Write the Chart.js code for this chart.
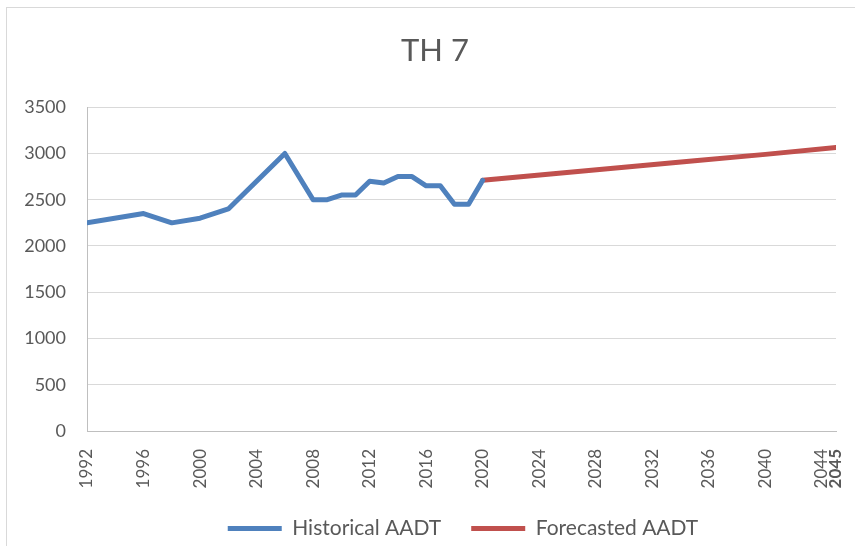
<!DOCTYPE html>
<html>
<head>
<meta charset="utf-8">
<script src="https://cdn.jsdelivr.net/npm/chart.js@4/dist/chart.umd.min.js"></script>
<style>
  html, body { margin: 0; padding: 0; background: #fff; }
  #wrap { width: 855px; height: 546px; }
</style>
</head>
<body>
<div id="wrap"><canvas id="chart" width="855" height="546"></canvas></div>
<script>
// values
const histYears = [1992, 1996, 1998, 2000, 2002, 2006, 2008, 2009, 2010, 2011, 2012, 2013, 2014, 2015, 2016, 2017, 2018, 2019, 2020];
const histValues = [2250, 2350, 2250, 2300, 2400, 3000, 2500, 2500, 2550, 2550, 2700, 2680, 2750, 2750, 2650, 2650, 2450, 2450, 2710];
const forecastYears = [2020, 2025, 2030, 2035, 2040, 2045];
const forecastValues = [2710, 2780, 2850, 2920, 2990, 3065];
const xTickYears = [1992, 1996, 2000, 2004, 2008, 2012, 2016, 2020, 2024, 2028, 2032, 2036, 2040, 2044, 2045];
const yTickValues = [0, 500, 1000, 1500, 2000, 2500, 3000, 3500];

const FONT = "Lato, 'Open Sans', sans-serif";
const TEXT = "#595959";

// light frame round the chart, and nudges for title / legend
const frame = {
  id: "frame",
  beforeDraw(chart) {
    const ctx = chart.ctx;
    ctx.save();
    ctx.fillStyle = "#fff";
    ctx.fillRect(0, 0, chart.width, chart.height);
    ctx.strokeStyle = "#d9d9d9";
    ctx.lineWidth = 1;
    ctx.strokeRect(6.5, 7.5, 900, 600);
    ctx.restore();
  },
  afterLayout(chart) {
    chart.titleBlock.left += 17;
    chart.titleBlock.right += 17;
    chart.legend.left += 45;
    chart.legend.right += 45;
  }
};

const ctx = document.getElementById("chart").getContext("2d");

new Chart(ctx, {
  type: "line",
  data: {
    datasets: [
      {
        label: "Historical AADT",
        data: histYears.map((y, i) => ({ x: y, y: histValues[i] })),
        borderColor: "#4f81bd",
        backgroundColor: "#4f81bd",
        borderWidth: 5,
        borderCapStyle: "round",
        borderJoinStyle: "round",
        pointRadius: 0,
        tension: 0,
      },
      {
        label: "Forecasted AADT",
        data: forecastYears.map((y, i) => ({ x: y, y: forecastValues[i] })),
        borderColor: "#c0504d",
        backgroundColor: "#c0504d",
        borderWidth: 5,
        borderCapStyle: "round",
        borderJoinStyle: "round",
        pointRadius: 0,
        tension: 0,
      },
    ],
  },
  options: {
    responsive: false,
    animation: false,
    layout: { padding: { left: 0, right: 19, top: 0, bottom: 8 } },
    plugins: {
      title: {
        display: true,
        text: "TH 7",
        color: TEXT,
        font: { family: FONT, size: 31, weight: "normal" },
        padding: { top: 32, bottom: 38 },
      },
      legend: {
        position: "bottom",
        maxHeight: 50,
        labels: {
          color: TEXT,
          font: { family: FONT, size: 21 },
          usePointStyle: true,
          pointStyle: "line",
          pointStyleWidth: 54,
          padding: 30,
        },
      },
      tooltip: { enabled: false },
    },
    scales: {
      x: {
        type: "linear",
        min: 1992,
        max: 2045,
        afterBuildTicks: (s) => {
          s.ticks = xTickYears.map((v) => ({ value: v }));
        },
        afterFit: (s) => {
          s.height = 57;
          s.paddingLeft = 0;
          s.paddingRight = 0;
        },
        grid: { display: false, drawTicks: false },
        border: { display: true, color: "#bfbfbf", width: 1 },
        ticks: {
          autoSkip: false,
          minRotation: 90,
          maxRotation: 90,
          padding: 18,
          color: TEXT,
          callback: (v) => String(v),
          font: (c) => ({
            family: FONT,
            size: 17,
            weight: c.tick && c.tick.value === 2045 ? "bold" : "normal",
          }),
        },
      },
      y: {
        min: 0,
        max: 3500,
        afterBuildTicks: (s) => {
          s.ticks = yTickValues.map((v) => ({ value: v }));
        },
        afterFit: (s) => {
          s.width = 87;
        },
        grid: { color: "#d9d9d9", lineWidth: 1, drawTicks: false },
        border: { display: true, color: "#bfbfbf", width: 1 },
        ticks: {
          padding: 21,
          color: TEXT,
          callback: (v) => String(v),
          font: { family: FONT, size: 18 },
        },
      },
    },
  },
  plugins: [frame],
});
</script>
</body>
</html>
